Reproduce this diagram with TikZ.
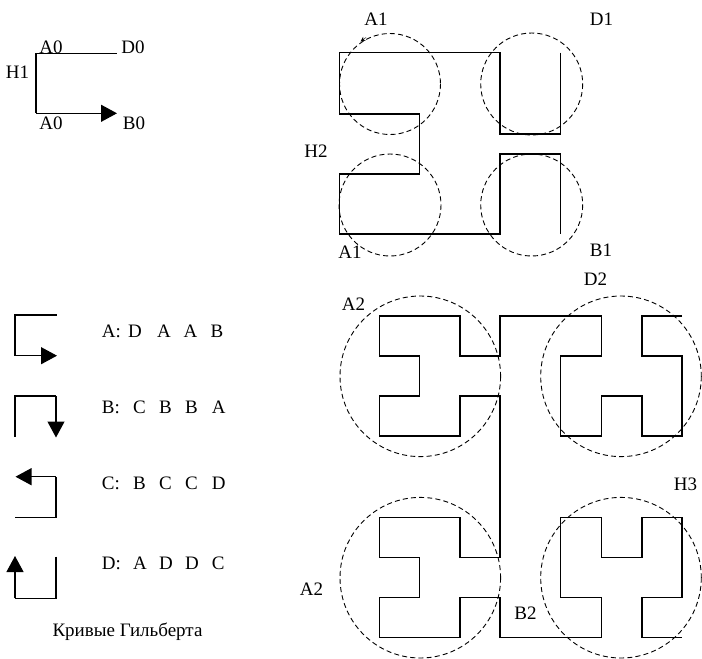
\documentclass[tikz,border=0pt]{standalone}
\usepackage{fontspec}
\setmainfont{Liberation Serif}
\usetikzlibrary{arrows.meta}
\tikzset{
  curve/.style={line width=1.2pt, line join=miter, line cap=butt},
  guide/.style={line width=0.9pt, dash pattern=on 5pt off 3.2pt},
  lbl/.style={font=\fontsize{19}{22}\selectfont, inner sep=0pt, anchor=base},
  rule/.style={font=\fontsize{19}{22}\selectfont, inner sep=0pt, anchor=base west},
  bigtip/.style={-{Triangle[length=16pt,width=17pt]}},
}
\begin{document}
\begin{tikzpicture}[x=1pt,y=-1pt]
\useasboundingbox (0,0) rectangle (702,659);

% ---------- H1 ----------
\draw[curve] (116.7,53.3) -- (36,53.3) -- (36,113.3);
\draw[curve,bigtip] (36,113.3) -- (117,113.3);
\node[lbl] (h1a) at (51,53) {A0};
\node[lbl] (h1d) at (133,53) {D0};
\node[lbl] (h1h) at (17.5,78) {H1};
\node[lbl] (h1a2) at (51,129) {A0};
\node[lbl] (h1b) at (134,129) {B0};

% ---------- H2 ----------
\draw[curve] (560.7,52.7) -- (560.7,134) -- (500,134) -- (500,52.7) -- (339.3,52.7)
  -- (339.3,114) -- (419.3,114) -- (419.3,174) -- (339.3,174) -- (339.3,234)
  -- (500,234) -- (500,154) -- (560.7,154) -- (560.7,234);
\draw[guide] (390,84) circle (50.5);
\draw[guide] (531.7,84) circle (51);
\draw[guide] (390,205) circle (51);
\draw[guide] (531.7,205) circle (51);
\draw[-{Stealth[length=5pt,width=4.5pt]}] (366,37.5) -- (360.5,41.5);
\node[lbl] (h2a) at (376,25.2) {A1};
\node[lbl] (h2d) at (601.5,25.2) {D1};
\node[lbl] (h2h) at (316,157.2) {H2};
\node[lbl] (h2a2) at (350,258) {A1};
\node[lbl] (h2b) at (601,256.2) {B1};

% ---------- H3 ----------
\draw[curve] (682,316) -- (642,316) -- (642,356) -- (682,356) -- (682,436) -- (642,436)
  -- (642,396) -- (601.3,396) -- (601.3,436) -- (560.7,436) -- (560.7,356) -- (601.3,356)
  -- (601.3,316) -- (500,316) -- (500,356) -- (460,356) -- (460,316) -- (379.3,316)
  -- (379.3,356) -- (419.3,356) -- (419.3,396) -- (379.3,396) -- (379.3,436) -- (460,436)
  -- (460,396) -- (500,396) -- (500,557.3) -- (460,557.3) -- (460,517.3) -- (379.3,517.3)
  -- (379.3,557.3) -- (419.3,557.3) -- (419.3,597.3) -- (379.3,597.3) -- (379.3,637.3)
  -- (460,637.3) -- (460,597.3) -- (500,597.3) -- (500,637.3) -- (601.3,637.3)
  -- (601.3,597.3) -- (560.7,597.3) -- (560.7,517.3) -- (601.3,517.3) -- (601.3,557.3)
  -- (642,557.3) -- (642,517.3) -- (682,517.3) -- (682,597.3) -- (642,597.3)
  -- (642,637.3) -- (682,637.3);
\draw[guide] (420.3,376.3) circle (80.3);
\draw[guide] (621,376.3) circle (80.3);
\draw[guide] (420.3,577.7) circle (80.3);
\draw[guide] (621,577.7) circle (80.3);
\node[lbl] (h3a) at (353.5,310.2) {A2};
\node[lbl] (h3d) at (595.5,285.2) {D2};
\node[lbl] (h3h) at (685.5,490.2) {H3};
\node[lbl] (h3a2) at (311.5,595.2) {A2};
\node[lbl] (h3b) at (525.5,619.2) {B2};

% ---------- legend ----------
\draw[curve] (56.7,315) -- (15,315) -- (15,355.7);
\draw[curve,bigtip] (15,355.7) -- (57,355.7);
\node[rule] (ra) at (101.7,337.7) {\makebox[26.3pt][l]{A:}\makebox[29pt][l]{D}\makebox[26.5pt][l]{A}\makebox[27pt][l]{A}B};

\draw[curve] (15,436.7) -- (15,396) -- (56,396);
\draw[curve,bigtip] (56,396) -- (56,437.5);
\node[rule] (rb) at (101.7,413.3) {\makebox[31.3pt][l]{B:}\makebox[26pt][l]{C}\makebox[26pt][l]{B}\makebox[26.7pt][l]{B}A};

\draw[curve] (15,517.3) -- (56,517.3) -- (56,476.7);
\draw[curve,bigtip] (56,476.7) -- (15.5,476.7);
\node[rule] (rc) at (101.7,489.3) {\makebox[31.3pt][l]{C:}\makebox[26pt][l]{B}\makebox[26pt][l]{C}\makebox[26.7pt][l]{C}D};

\draw[curve] (56,556.7) -- (56,598.3) -- (15,598.3);
\draw[curve,bigtip] (15,598.3) -- (15,556);
\node[rule] (rd) at (101.7,569.3) {\makebox[31.3pt][l]{D:}\makebox[26pt][l]{A}\makebox[26pt][l]{D}\makebox[26.7pt][l]{D}C};

\node[lbl] (cap) at (127.5,636.2) {Кривые Гильберта};
\end{tikzpicture}
\end{document}
